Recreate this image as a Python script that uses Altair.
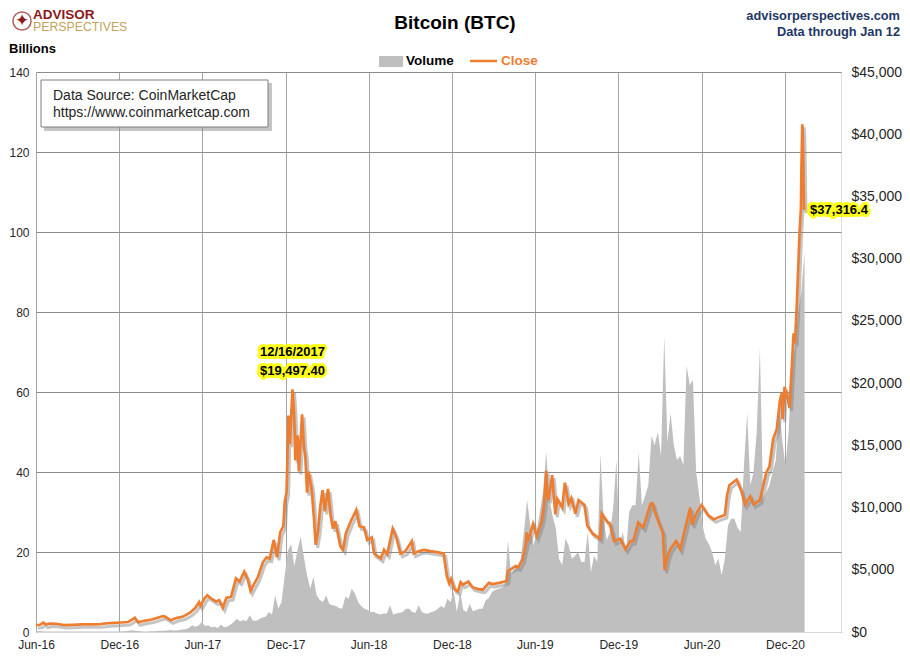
import altair as alt
import pandas as pd

# ---------------- data ----------------
close_dates = [
    "2016-06-01", "2016-06-10", "2016-06-17", "2016-06-23", "2016-07-01", "2016-07-15",
    "2016-08-02", "2016-08-20", "2016-09-10", "2016-10-01", "2016-10-20", "2016-11-05",
    "2016-11-20", "2016-12-05", "2016-12-20", "2017-01-04", "2017-01-11", "2017-01-25",
    "2017-02-10", "2017-02-25", "2017-03-07", "2017-03-12", "2017-03-24", "2017-04-05",
    "2017-04-20", "2017-05-05", "2017-05-16", "2017-05-25", "2017-05-28", "2017-06-06",
    "2017-06-12", "2017-06-20", "2017-07-01", "2017-07-08", "2017-07-16", "2017-07-24",
    "2017-08-03", "2017-08-14", "2017-08-22", "2017-09-01", "2017-09-08", "2017-09-15",
    "2017-09-22", "2017-10-01", "2017-10-12", "2017-10-20", "2017-10-27", "2017-11-05",
    "2017-11-12", "2017-11-19", "2017-11-26", "2017-11-29", "2017-12-03", "2017-12-07",
    "2017-12-10", "2017-12-16", "2017-12-19", "2017-12-21", "2017-12-22", "2017-12-27",
    "2017-12-30", "2018-01-06", "2018-01-10", "2018-01-13", "2018-01-17", "2018-01-20",
    "2018-01-27", "2018-02-01", "2018-02-05", "2018-02-10", "2018-02-15", "2018-02-20",
    "2018-02-25", "2018-03-04", "2018-03-10", "2018-03-15", "2018-03-20", "2018-03-31",
    "2018-04-06", "2018-04-12", "2018-04-23", "2018-05-05", "2018-05-12", "2018-05-22",
    "2018-05-29", "2018-06-08", "2018-06-13", "2018-06-28", "2018-07-05", "2018-07-12",
    "2018-07-24", "2018-08-01", "2018-08-10", "2018-08-20", "2018-09-04", "2018-09-08",
    "2018-09-20", "2018-10-01", "2018-10-15", "2018-11-01", "2018-11-13", "2018-11-15",
    "2018-11-20", "2018-11-25", "2018-11-29", "2018-12-07", "2018-12-14", "2018-12-20",
    "2018-12-25", "2019-01-06", "2019-01-15", "2019-01-28", "2019-02-07", "2019-02-20",
    "2019-02-28", "2019-03-15", "2019-03-31", "2019-04-03", "2019-04-20", "2019-04-26",
    "2019-05-05", "2019-05-12", "2019-05-14", "2019-05-17", "2019-05-28", "2019-06-05",
    "2019-06-16", "2019-06-21", "2019-06-26", "2019-06-28", "2019-07-01", "2019-07-09",
    "2019-07-16", "2019-07-20", "2019-07-31", "2019-08-06", "2019-08-14", "2019-08-20",
    "2019-08-29", "2019-09-05", "2019-09-18", "2019-09-24", "2019-10-06", "2019-10-22",
    "2019-10-26", "2019-11-08", "2019-11-12", "2019-11-22", "2019-12-05", "2019-12-17",
    "2019-12-28", "2020-01-03", "2020-01-14", "2020-01-25", "2020-02-10", "2020-02-14",
    "2020-02-20", "2020-03-01", "2020-03-08", "2020-03-12", "2020-03-19", "2020-03-25",
    "2020-04-06", "2020-04-15", "2020-04-29", "2020-05-07", "2020-05-11", "2020-05-20",
    "2020-06-01", "2020-06-15", "2020-06-28", "2020-07-10", "2020-07-22", "2020-07-27",
    "2020-08-01", "2020-08-17", "2020-08-27", "2020-09-04", "2020-09-16", "2020-09-23",
    "2020-10-07", "2020-10-12", "2020-10-21", "2020-10-28", "2020-11-05", "2020-11-13",
    "2020-11-20", "2020-11-24", "2020-11-26", "2020-11-30", "2020-12-05", "2020-12-11",
    "2020-12-16", "2020-12-20", "2020-12-23", "2020-12-27", "2021-01-02", "2021-01-05",
    "2021-01-06", "2021-01-08", "2021-01-09", "2021-01-10", "2021-01-11", "2021-01-12",
]
close_values = [
    560, 580, 760, 600, 680, 665,
    560, 580, 620, 615, 630, 705,
    730, 765, 800, 1140, 780, 900,
    1000, 1170, 1280, 1220, 940, 1120,
    1240, 1550, 1900, 2400, 2100, 2700,
    2950, 2700, 2450, 2550, 1950, 2750,
    2800, 4300, 4050, 4850, 4300, 3300,
    3800, 4400, 5600, 6000, 5900, 7400,
    6000, 8000, 8500, 10500, 11200, 17400,
    15100, 19497.4, 17800, 16000, 13800, 15800,
    12900, 17500, 14900, 14200, 11200, 12900,
    11500, 9200, 7000, 8100, 10100, 11400,
    9700, 11500, 9300, 8300, 8900, 6900,
    6600, 7900, 8900, 9800, 8500, 8400,
    7400, 7600, 6300, 5900, 6600, 6250,
    8300, 7600, 6300, 6450, 7300, 6300,
    6500, 6600, 6500, 6400, 6300, 5700,
    4450, 3900, 4250, 3400, 3250, 4000,
    3800, 4050, 3600, 3450, 3400, 3950,
    3850, 3950, 4100, 4900, 5300, 5200,
    5800, 7000, 8000, 7300, 8700, 7700,
    8900, 10200, 12950, 11000, 10600, 12600,
    9450, 10700, 10000, 12000, 10300, 10750,
    9500, 10600, 10200, 8550, 7900, 7500,
    9500, 8800, 8750, 7300, 7500, 6650,
    7300, 7300, 8800, 8400, 10300, 10350,
    9600, 8600, 8000, 4970, 6200, 6700,
    7300, 6650, 8800, 10000, 8600, 9500,
    10200, 9400, 9050, 9250, 9400, 11000,
    11800, 12250, 11350, 10250, 10900, 10250,
    10600, 11400, 12800, 13300, 15500, 16300,
    18600, 19200, 17100, 19700, 19100, 18000,
    21300, 24000, 23200, 26300, 32100, 34000,
    36800, 40800, 40200, 38200, 35500, 33900,
]

# weekly volume (billions), weeks starting 2016-06-01
vol_start = "2016-06-01"
vol_values = [
    0.2, 0.25, 0.2, 0.15, 0.15, 0.1, 0.1, 0.15, 0.1, 0.1, 0.1, 0.1, 0.1,
    0.1, 0.1, 0.1, 0.1, 0.1, 0.1, 0.1, 0.15, 0.1, 0.1, 0.1, 0.1, 0.15,
    0.15, 0.2, 0.2, 0.3, 0.45, 0.3, 0.25, 0.2, 0.15, 0.15, 0.2, 0.2, 0.25, 0.3,
    0.3, 0.4, 0.5, 0.35, 0.4, 0.5, 0.6, 0.7, 1.0, 1.7, 1.3, 1.6,
    2.5, 1.5, 1.7, 1.2, 1.3, 1.0, 1.9, 1.2, 1.4,
    1.8, 2.5, 3.3, 2.6, 3.0, 2.7, 4.2,
    2.9, 2.8, 3.2, 3.6, 3.8, 5.0, 4.4, 9.2, 5.8, 7.5,
    14.2, 20.4, 22.0, 16.5, 20.4, 23.8, 18.8, 14.2, 10.8, 13.8, 9.2,
    8.0, 7.5, 9.2, 7.0, 6.7, 6.5, 6.0, 5.8, 8.8, 8.3, 10.8, 9.6, 7.5, 6.5, 5.8,
    5.5, 5.0, 5.0, 4.6, 4.4, 4.6, 4.6, 6.7, 4.4, 4.6, 4.8, 5.0, 5.8, 5.8,
    5.0, 4.8, 6.7, 5.0, 4.6, 4.6, 5.0, 5.2, 5.8, 6.5, 6.0, 8.3, 7.5,
    10.0, 5.0, 10.0, 5.5, 5.0, 7.0, 5.2, 5.5, 5.8, 5.8, 7.9, 8.5, 10.0, 10.5, 10.8, 11.0, 11.7,
    22.9, 14.2, 15.5, 16.7, 18.3, 25.0, 33.0, 26.7, 21.7, 25.0, 30.0, 35.0, 45.0,
    33.0, 29.0, 26.0, 18.3, 16.7, 23.3, 21.7, 18.3, 19.0, 20.0, 17.5, 17.5, 25.0,
    15.0, 19.0, 17.5, 44.6, 28.0, 23.0, 25.0, 31.0, 43.0, 21.7, 25.0, 20.0,
    30.0, 31.7, 31.7, 45.0, 31.7, 34.0, 36.7, 49.0, 46.7, 50.0, 44.0, 74.0, 47.5,
    54.6, 46.7, 43.0, 44.0, 41.7, 66.7, 61.7, 63.0, 40.0, 34.0, 26.7, 23.3,
    22.0, 20.0, 16.7, 18.3, 14.2, 18.3, 26.7, 28.3, 28.3, 26.0, 25.0, 41.7, 54.6,
    36.7, 40.0, 50.0, 71.0, 33.0, 35.0, 36.7, 40.0, 43.0, 56.7, 48.0, 41.7, 50.0,
    66.7, 71.0, 80.0, 85.0, 95.0,
]

left_ticks = [0, 20, 40, 60, 80, 100, 120, 140]
right_ticks = [0, 5000, 10000, 15000, 20000, 25000, 30000, 35000, 40000, 45000]
x_tick_months = [(2016, 6), (2016, 12), (2017, 6), (2017, 12), (2018, 6), (2018, 12),
                 (2019, 6), (2019, 12), (2020, 6), (2020, 12)]

peak_date, peak_value = "2017-12-16", 19497.4
peak_label1, peak_label2 = "12/16/2017", "$19,497.40"
last_label = "$37,316.4"

# ---------------- tables ----------------
vol_df = pd.DataFrame({
    "date": pd.date_range(vol_start, periods=len(vol_values), freq="7D"),
    "volume": vol_values,
})
close_df = pd.DataFrame({"date": pd.to_datetime(close_dates), "close": close_values})
peak_df = pd.DataFrame({"date": pd.to_datetime([peak_date]), "close": [peak_value],
                        "l1": [peak_label1], "l2": [peak_label2]})
end_df = pd.DataFrame({"date": pd.to_datetime([close_dates[-1]]), "close": [close_values[-1]],
                       "lab": [last_label]})

FONT = "Liberation Sans"
ORANGE = "#ED7D31"
GRAY = "#BFBFBF"
TXT = "#262626"
NAVY = "#1F3864"

x_enc = alt.X(
    "date:T",
    scale=alt.Scale(domain=[alt.DateTime(year=2016, month=6, date=1),
                            alt.DateTime(year=2021, month=4, date=3)]),
    axis=alt.Axis(
        values=[alt.DateTime(year=y, month=m, date=1) for y, m in x_tick_months],
        format="%b-%y", title=None, grid=True, gridColor="#A6A6A6", gridWidth=1,
        ticks=False, domainColor="#D9D9D9", labelFontSize=12, labelPadding=7,
        labelColor=TXT, labelFont=FONT, labelFlush=False, labelOverlap=False,
    ),
)

vol_y = alt.Y(
    "volume:Q",
    scale=alt.Scale(domain=[0, 140], nice=False),
    axis=alt.Axis(values=left_ticks, orient="left", title=None, grid=True,
                  gridColor="#8C8C8C", gridWidth=1, ticks=False, domain=False,
                  labelFontSize=12, labelPadding=7, labelColor=TXT, labelFont=FONT),
)

close_y = alt.Y(
    "close:Q",
    scale=alt.Scale(domain=[0, 45000], nice=False),
    axis=alt.Axis(values=right_ticks, orient="right", format="$,d", title=None,
                  grid=False, ticks=False, domain=False, labelFontSize=14,
                  labelPadding=10, labelColor=TXT, labelFont=FONT, labelFlush=False),
)

vol = alt.Chart(vol_df).mark_area(color=GRAY, interpolate="linear").encode(x=x_enc, y=vol_y)

shadow = alt.Chart(close_df).mark_line(
    color="#7F7F7F", strokeWidth=3, opacity=0.45, xOffset=2, yOffset=3
).encode(x=x_enc, y=close_y)
line = alt.Chart(close_df).mark_line(color=ORANGE, strokeWidth=2.7).encode(x=x_enc, y=close_y)


def glow_text(df, field, dy, align="center", dx=0):
    base = dict(font=FONT, fontSize=13, fontWeight="bold", align=align,
                baseline="middle", dy=dy, dx=dx)
    g = alt.Chart(df).mark_text(color="#FFFF00", stroke="#FFFF00", strokeWidth=6,
                                strokeJoin="round", opacity=0.9, **base).encode(
        x=x_enc, y=close_y, text=f"{field}:N")
    t = alt.Chart(df).mark_text(color="black", **base).encode(
        x=x_enc, y=close_y, text=f"{field}:N")
    return [g, t]


close_group = alt.layer(
    shadow, line,
    *glow_text(peak_df, "l1", -37),
    *glow_text(peak_df, "l2", -18),
    *glow_text(end_df, "lab", 0, align="left", dx=6),
)


def ptext(txt, x, y, **kw):
    return alt.Chart(pd.DataFrame({"t": [txt]})).mark_text(**kw).encode(
        x=alt.value(x), y=alt.value(y), text="t:N")


one = pd.DataFrame({"a": [0]})

decor = [
    # title & header texts
    ptext("Bitcoin (BTC)", 419, -49, font=FONT, fontSize=19, fontWeight="bold",
          align="center", baseline="middle", color="black"),
    ptext("advisorperspectives.com", 864, -56, font=FONT, fontSize=12.8,
          fontWeight="bold", align="right", baseline="middle", color=NAVY),
    ptext("Data through Jan 12", 864, -40, font=FONT, fontSize=12.8,
          fontWeight="bold", align="right", baseline="middle", color=NAVY),
    # logo
    alt.Chart(one).mark_point(shape="circle", filled=False, color="#8B1A1A",
                              strokeWidth=1.5, size=330).encode(
        x=alt.value(-14), y=alt.value(-51)),
    ptext("\u2726", -14, -51, font="DejaVu Sans", fontSize=17, align="center",
          baseline="middle", color="#8B1A1A"),
    ptext("ADVISOR", -3, -57, font=FONT, fontSize=13.5, fontWeight="bold",
          align="left", baseline="middle", color="#8B1A1A"),
    ptext("PERSPECTIVES", -3, -45.5, font=FONT, fontSize=12.3,
          align="left", baseline="middle", color="#C4A35A"),
    ptext("Billions", -27, -23, font=FONT, fontSize=13, fontWeight="bold",
          align="left", baseline="middle", color="black"),
    # legend
    alt.Chart(one).mark_rect(color=GRAY).encode(
        x=alt.value(343), x2=alt.value(367), y=alt.value(-16), y2=alt.value(-5)),
    ptext("Volume", 370, -11, font=FONT, fontSize=13.5, fontWeight="bold",
          align="left", baseline="middle", color="black"),
    alt.Chart(one).mark_rule(color=ORANGE, strokeWidth=2.5).encode(
        x=alt.value(434), x2=alt.value(461), y=alt.value(-11)),
    ptext("Close", 465, -11, font=FONT, fontSize=13.5, fontWeight="bold",
          align="left", baseline="middle", color=ORANGE),
    # data source box
    alt.Chart(one).mark_rect(color="#7F7F7F", opacity=0.45).encode(
        x=alt.value(8), x2=alt.value(236), y=alt.value(11), y2=alt.value(59)),
    alt.Chart(one).mark_rect(fill="white", stroke="#7F7F7F", strokeWidth=1).encode(
        x=alt.value(5), x2=alt.value(232), y=alt.value(8), y2=alt.value(55)),
    ptext("Data Source: CoinMarketCap", 17, 24, font=FONT, fontSize=14,
          align="left", baseline="middle", color=TXT),
    ptext("https://www.coinmarketcap.com", 17, 41, font=FONT, fontSize=14,
          align="left", baseline="middle", color=TXT),
]

chart = alt.layer(vol, close_group, *decor).resolve_scale(y="independent").properties(
    width=805, height=560,
    padding={"left": 28, "top": 64, "right": 61, "bottom": 20},
    autosize=alt.AutoSizeParams(type="none"),
    background="white",
).configure_view(stroke=None).configure(font=FONT)

chart.save("out.html", embed_options={"renderer": "svg", "actions": False})
